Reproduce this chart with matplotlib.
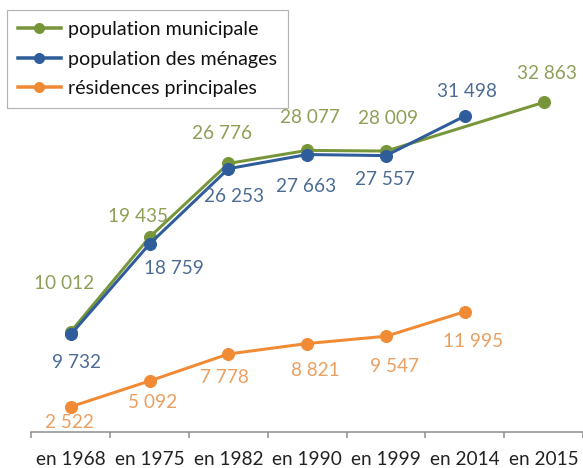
import numpy as np
import matplotlib
matplotlib.use("Agg")
import matplotlib.pyplot as plt
from matplotlib.lines import Line2D

plt.rcParams['font.family'] = ['Lato', 'DejaVu Sans']

# data
years = ["en 1968", "en 1975", "en 1982", "en 1990", "en 1999", "en 2014", "en 2015"]
pop_municipale = [10012, 19435, 26776, 28077, 28009, None, 32863]
pop_menages = [9732, 18759, 26253, 27663, 27557, 31498, None]
residences = [2522, 5092, 7778, 8821, 9547, 11995, None]

series_names = ["population municipale", "population des ménages", "résidences principales"]
line_colors = ["#77963A", "#2F5C9A", "#F08A35"]
text_colors = ["#8E9F58", "#4D6C95", "#E9A062"]

# label offsets in px (dx, dy)
offsets = [
    [(-7, 48), (-12, 21), (-6, 30), (3, 33), (2, 33), None, (3, 29)],
    [(6, -28), (24, -25), (6, -28), (-1, -32), (-1, -24), (2, 25), None],
    [(-1, -16), (3, -22), (-4, -24), (8, -27), (8, -30), (8, -30), None],
]


def fmt(v):
    return "{:,}".format(v).replace(",", " ")


fig = plt.figure(figsize=(583 / 72, 468 / 72), dpi=72)
ax = fig.add_axes([0, 36 / 468, 1, 432 / 468])
ax.set_xlim(-71.5 / 79.5, (583 - 71.5) / 79.5)
ax.set_ylim(0, 43070)

all_series = [pop_municipale, pop_menages, residences]
for k, vals in enumerate(all_series):
    xs = [i for i, v in enumerate(vals) if v is not None]
    ys = [v for v in vals if v is not None]
    ax.plot(xs, ys, color=line_colors[k], lw=3, marker="o", ms=12, zorder=3 + (k == 1))
    for i in xs:
        dx, dy = offsets[k][i]
        ax.annotate(fmt(vals[i]), (i, vals[i]), xytext=(dx, dy), textcoords="offset points",
                    ha="center", va="center", fontsize=19, color=text_colors[k], zorder=5)

# category axis, ticks between categories
for s in ["top", "left", "right"]:
    ax.spines[s].set_visible(False)
ax.spines["bottom"].set_color("#8C8C8C")
ax.spines["bottom"].set_linewidth(1.5)
ax.spines["bottom"].set_bounds(-0.5, 8)
ax.set_yticks([])
ax.set_xticks(np.arange(len(years) + 1) - 0.5)
ax.set_xticklabels([])
ax.tick_params(axis="x", which="major", length=6, width=1.5, color="#8C8C8C")
ax.set_xticks(np.arange(len(years)), minor=True)
ax.set_xticklabels(years, minor=True, fontsize=19, color="#222222")
ax.tick_params(axis="x", which="minor", length=0, pad=19)

handles = [Line2D([0], [0], color=c, lw=3.5, marker="o", ms=10) for c in line_colors]
leg = fig.legend(handles, series_names, loc="upper left", bbox_to_anchor=(7 / 583, 1 - 10 / 468),
                 fontsize=19.6, frameon=True, fancybox=False, edgecolor="#A0A0A0",
                 handlelength=2.2, handletextpad=0.37, labelspacing=0.65, borderpad=0.55,
                 borderaxespad=0)
leg.get_frame().set_linewidth(1.2)
for t in leg.get_texts():
    t.set_color("#111111")

fig.savefig("out.png", dpi=72)
